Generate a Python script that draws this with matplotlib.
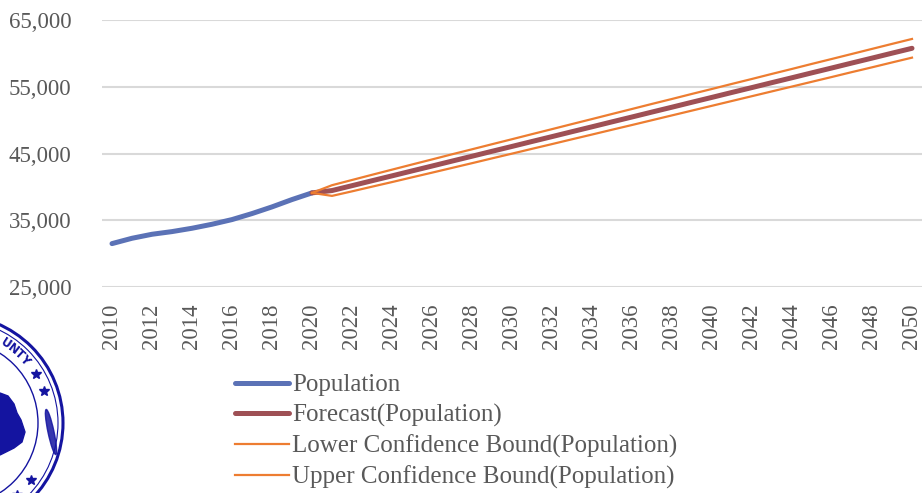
import numpy as np
import matplotlib
matplotlib.use("Agg")
import matplotlib.pyplot as plt
from matplotlib.patches import Circle, Polygon, Ellipse

# Observed population
years_hist = [2010, 2011, 2012, 2013, 2014, 2015, 2016, 2017, 2018, 2019, 2020]
population = [31500, 32300, 32900, 33300, 33800, 34400, 35100, 36000, 37000, 38100, 39100]

# Forecast with confidence bounds
years_fc = list(range(2020, 2051))
forecast = [39100, 39450, 40180, 40920, 41650, 42390, 43120, 43860, 44590, 45330,
            46060, 46800, 47530, 48270, 49000, 49740, 50470, 51210, 51940, 52680,
            53410, 54150, 54880, 55620, 56350, 57090, 57820, 58560, 59290, 60030,
            60760]
lower = [39100, 38650, 39330, 40030, 40720, 41430, 42130, 42840, 43550, 44270,
         44980, 45700, 46410, 47130, 47840, 48560, 49270, 49990, 50710, 51430,
         52150, 52870, 53590, 54310, 55030, 55750, 56470, 57200, 57910, 58640,
         59360]
upper = [39100, 40250, 41030, 41810, 42580, 43350, 44110, 44880, 45630, 46390,
         47140, 47900, 48650, 49410, 50160, 50920, 51670, 52430, 53170, 53930,
         54670, 55430, 56170, 56930, 57670, 58430, 59170, 59920, 60670, 61420,
         62160]

y_ticks = [25000, 35000, 45000, 55000, 65000]
x_ticks = list(range(2010, 2051, 2))

plt.rcParams["font.family"] = ["Liberation Serif", "DejaVu Serif"]
TXT = "#595959"

fig = plt.figure(figsize=(9.22, 4.93), dpi=100)

# county seal, partly cut off at the lower left
logo = fig.add_axes([0, 0, 1, 1], zorder=0)
logo.set_xlim(0, 922)
logo.set_ylim(493, 0)
logo.axis("off")
navy = "#1414a0"
cx, cy = -45, 423
logo.add_patch(Circle((cx, cy), 108, fill=False, ec=navy, lw=2.2))
logo.add_patch(Circle((cx, cy), 103, fill=False, ec=navy, lw=0.8))
logo.add_patch(Circle((cx, cy), 83, fill=False, ec=navy, lw=1.0))
for ch, ang in zip("UNTY", [57, 52, 47, 42]):
    t = np.radians(ang)
    logo.text(cx + 94 * np.cos(t), cy - 94 * np.sin(t), ch, rotation=ang - 90,
              ha="center", va="center", fontsize=8.5, fontweight="bold",
              color=navy, family="DejaVu Sans")
for ang in [31, 20, -37, -49]:
    t = np.radians(ang)
    logo.plot(cx + 95 * np.cos(t), cy - 95 * np.sin(t), marker="*", ms=7,
              color=navy, mec=navy)
logo.add_patch(Polygon([(0, 393), (8, 396), (14, 404), (17, 413), (21, 420),
                        (25, 432), (22, 442), (14, 448), (6, 452), (0, 455)],
                       closed=True, fc=navy, ec=navy))
logo.add_patch(Ellipse((51, 432), 6, 46, angle=-12, fc=navy, ec=navy, alpha=0.85))

ax = fig.add_axes([102 / 922, 1 - 287 / 493, 820 / 922, 267 / 493], zorder=1)
ax.patch.set_alpha(0)

ax.plot(years_hist, population, color="#5b72b6", lw=3.6, solid_capstyle="round",
        label="Population", zorder=3)
ax.plot(years_fc, forecast, color="#9e5055", lw=3.6, solid_capstyle="round",
        label="Forecast(Population)", zorder=4)
ax.plot(years_fc, lower, color="#ed7d31", lw=1.6,
        label="Lower Confidence Bound(Population)", zorder=5)
ax.plot(years_fc, upper, color="#ed7d31", lw=1.6,
        label="Upper Confidence Bound(Population)", zorder=5)

ax.set_xlim(2009.5, 2050.5)
ax.set_ylim(25000, 65000)
ax.set_yticks(y_ticks)
ax.set_yticklabels([f"{v:,}" for v in y_ticks])
ax.set_xticks(x_ticks)
ax.set_xticklabels([str(y) for y in x_ticks], rotation=90)
ax.grid(axis="y", color="#d9d9d9", lw=1.5)
ax.set_axisbelow(True)
for s in ax.spines.values():
    s.set_visible(False)
ax.tick_params(axis="both", length=0, labelsize=16.5, colors=TXT)
ax.tick_params(axis="y", pad=22)
ax.tick_params(axis="x", pad=12)

fig.legend(loc="upper left", bbox_to_anchor=(235 / 922, 1 - 374 / 493),
           frameon=False, fontsize=18, labelcolor=TXT, handlelength=2.15,
           handletextpad=0.12, labelspacing=0.3, borderaxespad=0, borderpad=0)

fig.savefig("out.png", dpi=100)
